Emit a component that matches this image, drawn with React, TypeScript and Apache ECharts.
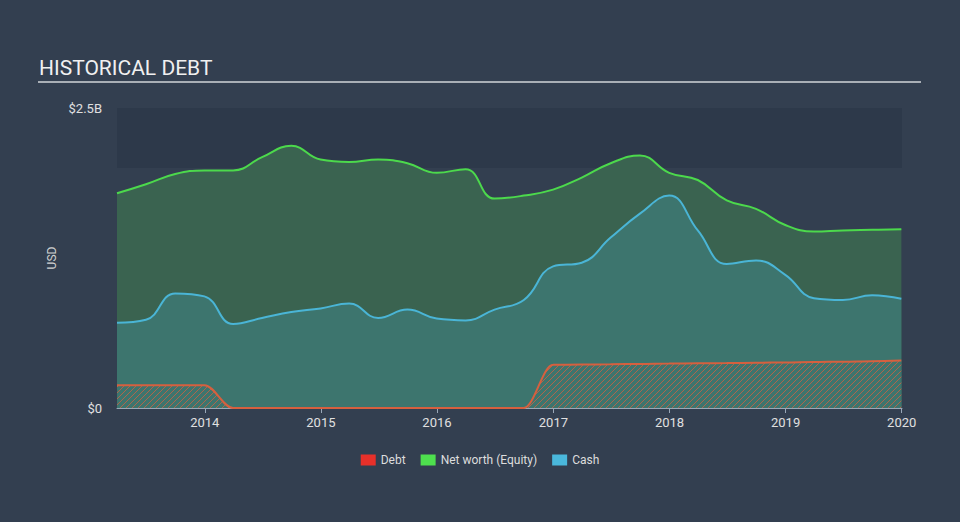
import React, { useEffect, useRef } from "react";
import * as echarts from "echarts";

const dates = [
  "2013-03-31", "2013-06-30", "2013-09-30", "2013-12-31",
  "2014-03-31", "2014-06-30", "2014-09-30", "2014-12-31",
  "2015-03-31", "2015-06-30", "2015-09-30", "2015-12-31",
  "2016-03-31", "2016-06-30", "2016-09-30", "2016-12-31",
  "2017-03-31", "2017-06-30", "2017-09-30", "2017-12-31",
  "2018-03-31", "2018-06-30", "2018-09-30", "2018-12-31",
  "2019-03-31", "2019-06-30", "2019-09-30", "2019-12-31",
];

// values in billions of USD
const netWorth = [
  1.79, 1.865, 1.95, 1.98,
  1.98, 2.09, 2.185, 2.07,
  2.05, 2.07, 2.04, 1.96,
  1.99, 1.745, 1.77, 1.82,
  1.92, 2.04, 2.105, 1.96,
  1.9, 1.73, 1.66, 1.525,
  1.47, 1.48, 1.485, 1.49,
];

const cash = [
  0.71, 0.735, 0.955, 0.93,
  0.7, 0.75, 0.8, 0.83,
  0.87, 0.75, 0.82, 0.745,
  0.73, 0.82, 0.9, 1.18,
  1.21, 1.42, 1.62, 1.77,
  1.48, 1.2, 1.23, 1.11,
  0.915, 0.9, 0.94, 0.91,
];

const debt = [
  0.19, 0.19, 0.19, 0.19,
  0, 0, 0, 0,
  0, 0, 0, 0,
  0, 0, 0, 0.36,
  0.362, 0.365, 0.367, 0.37,
  0.372, 0.375, 0.377, 0.38,
  0.383, 0.386, 0.39, 0.395,
];

const yTicks = [0, 2.5];
const legendNames = ["Debt", "Net worth (Equity)", "Cash"];
const titleText = "HISTORICAL DEBT";

function makeHatch(): HTMLCanvasElement {
  const c = document.createElement("canvas");
  c.width = 6;
  c.height = 6;
  const ctx = c.getContext("2d")!;
  ctx.fillStyle = "#3d756e";
  ctx.fillRect(0, 0, 6, 6);
  ctx.strokeStyle = "rgba(214,96,64,0.75)";
  ctx.lineWidth = 1;
  ctx.beginPath();
  ctx.moveTo(0, 6);
  ctx.lineTo(6, 0);
  ctx.moveTo(-3, 3);
  ctx.lineTo(3, -3);
  ctx.moveTo(3, 9);
  ctx.lineTo(9, 3);
  ctx.stroke();
  return c;
}

export default function App() {
  const ref = useRef<HTMLDivElement>(null);

  useEffect(() => {
    if (!ref.current) return;
    const chart = echarts.init(ref.current, null, { renderer: "svg" });
    const pair = (arr: number[]) => dates.map((d, i) => [d, arr[i]]);
    const font = "Roboto";

    chart.setOption({
      animation: false,
      backgroundColor: "#333f50",
      textStyle: { fontFamily: font },
      graphic: [
        {
          type: "text",
          left: 39,
          top: 57,
          style: {
            text: titleText,
            fill: "#f0f0f0",
            font: `400 21px ${font}`,
          },
        },
        {
          type: "line",
          shape: { x1: 38, y1: 82, x2: 921, y2: 82 },
          style: { stroke: "#a9afb6", lineWidth: 2 },
        },
      ],
      legend: {
        data: legendNames,
        left: "center",
        top: 449,
        icon: "rect",
        itemWidth: 15,
        itemHeight: 11,
        itemGap: 15,
        selectedMode: false,
        textStyle: { color: "#dddddd", fontSize: 12, fontFamily: font },
      },
      grid: { left: 117, right: 58, top: 108, bottom: 114 },
      xAxis: {
        type: "time",
        min: "2013-03-31",
        max: "2020-01-02",
        minInterval: 365 * 24 * 3600 * 1000,
        splitLine: { show: false },
        axisLine: { lineStyle: { color: "#9aa8b8", width: 1 } },
        axisTick: { show: true, length: 5, lineStyle: { color: "#9aa8b8" } },
        axisLabel: {
          color: "#e0e0e0",
          fontSize: 13,
          fontFamily: font,
          margin: 8,
          showMinLabel: false,
          showMaxLabel: false,
          formatter: "{yyyy}",
        },
      },
      yAxis: {
        type: "value",
        min: yTicks[0],
        max: yTicks[1],
        interval: 2.5,
        name: "USD",
        nameLocation: "middle",
        nameRotate: 90,
        nameGap: 44,
        nameTextStyle: { color: "#d0d0d0", fontSize: 12, fontFamily: font },
        splitLine: { show: false },
        axisLine: { show: false },
        axisTick: { show: false },
        axisLabel: {
          color: "#e0e0e0",
          fontSize: 13,
          fontFamily: font,
          margin: 15,
          formatter: (v: number) => (v === 0 ? "$0" : `$${v}B`),
        },
      },
      series: [
        {
          name: "band",
          type: "line",
          data: [],
          z: 0,
          silent: true,
          markArea: {
            silent: true,
            itemStyle: { color: "#2d394a" },
            data: [[{ yAxis: 2 }, { yAxis: 2.5 }]],
          },
        },
        {
          name: "Net worth (Equity)",
          type: "line",
          data: pair(netWorth),
          smooth: 0.45,
          showSymbol: false,
          z: 2,
          itemStyle: { color: "#4ee04e" },
          lineStyle: { color: "#4cd94c", width: 2 },
          areaStyle: { color: "#3a6350", opacity: 1 },
        },
        {
          name: "Cash",
          type: "line",
          data: pair(cash),
          smooth: 0.45,
          showSymbol: false,
          z: 3,
          itemStyle: { color: "#4ab8dc" },
          lineStyle: { color: "#4ab5d6", width: 2 },
          areaStyle: { color: "#3d756e", opacity: 1 },
        },
        {
          name: "Debt",
          type: "line",
          data: pair(debt),
          smooth: 0.35,
          smoothMonotone: "x",
          showSymbol: false,
          z: 4,
          itemStyle: { color: "#e8302a" },
          lineStyle: { color: "#d6603f", width: 2 },
          areaStyle: {
            color: { image: makeHatch(), repeat: "repeat" },
            opacity: 1,
          },
        },
      ],
    });

    return () => chart.dispose();
  }, []);

  return (
    <div
      ref={ref}
      style={{ position: "fixed", left: 0, top: 0, width: 960, height: 522 }}
    />
  );
}
